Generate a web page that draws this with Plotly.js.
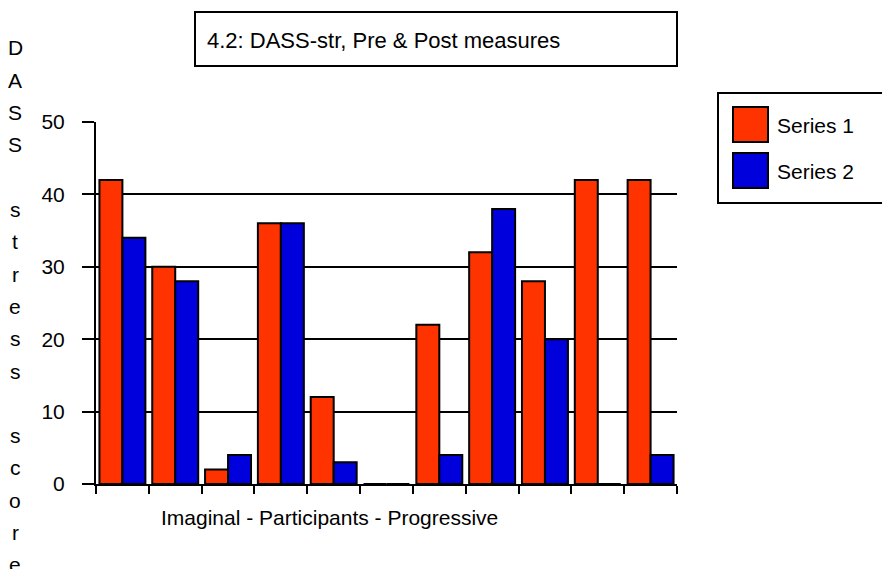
<!DOCTYPE html>
<html>
<head>
<meta charset="utf-8">
<script src="https://cdn.plot.ly/plotly-3.0.1.min.js"></script>
<style>html,body{margin:0;padding:0;background:#fff;}#chart{width:882px;height:569px;}</style>
</head>
<body>
<div id="chart"></div>
<script>
// ---- data ----
const categories = ["1","2","3","4","5","6","7","8","9","10","11"];
const series1 = [42, 30, 2, 36, 12, 0, 22, 32, 28, 42, 42];
const series2 = [34, 28, 4, 36, 3, 0, 4, 38, 20, 0, 4];
const seriesNames = ["Series 1", "Series 2"];
const seriesColors = ["#FF3300", "#0000DD"];
const yTickVals = [0, 10, 20, 30, 40, 50];
const chartTitle = "4.2: DASS-str, Pre & Post measures";
const xTitle = "Imaginal - Participants - Progressive";
const yTitle = "DASS stress score";

// ---- layout helpers (pixel -> paper) ----
const W = 882, H = 569;
const L = 96, R = 205, T = 122, B = 85;
const pw = W - L - R, ph = H - T - B;
const px = x => (x - L) / pw;
const py = y => (H - B - y) / ph;
const FONT = "Liberation Sans, Arial, sans-serif";

const traces = [series1, series2].map((vals, i) => ({
  type: "bar",
  name: seriesNames[i],
  x: categories,
  y: vals,
  marker: { color: seriesColors[i], line: { color: "#000", width: 2 } },
  hoverinfo: "x+y+name",
  showlegend: false
}));

// vertical, letter-by-letter y title
const yAnn = [];
yTitle.split("").forEach((ch, k) => {
  if (ch === " ") return;
  yAnn.push({
    xref: "paper", yref: "paper",
    x: px(15), y: py(48 + k * 32.3),
    text: ch, showarrow: false,
    xanchor: "center", yanchor: "middle",
    font: { family: FONT, size: 21, color: "#000" }
  });
});

// boxed legend with large swatches (built from the series arrays)
const legShapes = [{
  type: "rect", xref: "paper", yref: "paper",
  x0: px(718), x1: px(895), y0: py(203), y1: py(93),
  line: { color: "#000", width: 2 }, fillcolor: "#fff", layer: "above"
}];
const legAnn = [];
seriesNames.forEach((nm, i) => {
  const top = 107 + i * 46;
  legShapes.push({
    type: "rect", xref: "paper", yref: "paper",
    x0: px(733), x1: px(768), y0: py(top + 35), y1: py(top),
    line: { color: "#000", width: 2 }, fillcolor: seriesColors[i], layer: "above"
  });
  legAnn.push({
    xref: "paper", yref: "paper",
    x: px(775), y: py(top + 18),
    xanchor: "left", yanchor: "middle",
    text: nm, showarrow: false,
    font: { family: FONT, size: 21, color: "#000" }
  });
});

const layout = {
  width: W, height: H,
  margin: { l: L, r: R, t: T, b: B, pad: 0 },
  paper_bgcolor: "#fff", plot_bgcolor: "#fff",
  font: { family: FONT, size: 21, color: "#000" },
  title: {
    text: chartTitle,
    xref: "container", yref: "container",
    x: 207 / W, y: 1 - 40 / H,
    xanchor: "left", yanchor: "middle",
    font: { family: FONT, size: 22, color: "#000" }
  },
  barmode: "group",
  bargap: 0.13,
  bargroupgap: 0,
  showlegend: false,
  xaxis: {
    type: "category",
    showticklabels: false,
    showline: true, linecolor: "#000", linewidth: 2,
    ticks: "outside", tickson: "boundaries", ticklen: 8, tickwidth: 2, tickcolor: "#000",
    showgrid: false, zeroline: false,
    fixedrange: true
  },
  yaxis: {
    range: [0, 50],
    tickvals: yTickVals,
    showline: true, linecolor: "#000", linewidth: 2,
    ticks: "outside", ticklen: 12, tickwidth: 2, tickcolor: "#000",
    ticklabelstandoff: 13,
    showgrid: true, gridcolor: "#000", gridwidth: 2,
    zeroline: false,
    tickfont: { family: FONT, size: 21, color: "#000" },
    fixedrange: true
  },
  shapes: [{
    type: "rect", xref: "paper", yref: "paper",
    x0: px(195), x1: px(677), y0: py(66), y1: py(12),
    line: { color: "#000", width: 2 }, fillcolor: "rgba(0,0,0,0)", layer: "below"
  }].concat(legShapes),
  annotations: [{
    xref: "paper", yref: "paper",
    x: px(159), y: py(517),
    xanchor: "left", yanchor: "middle",
    text: xTitle, showarrow: false,
    font: { family: FONT, size: 21, color: "#000" }
  }].concat(yAnn, legAnn)
};

Plotly.newPlot("chart", traces, layout, { displayModeBar: false, staticPlot: true });
</script>
</body>
</html>
